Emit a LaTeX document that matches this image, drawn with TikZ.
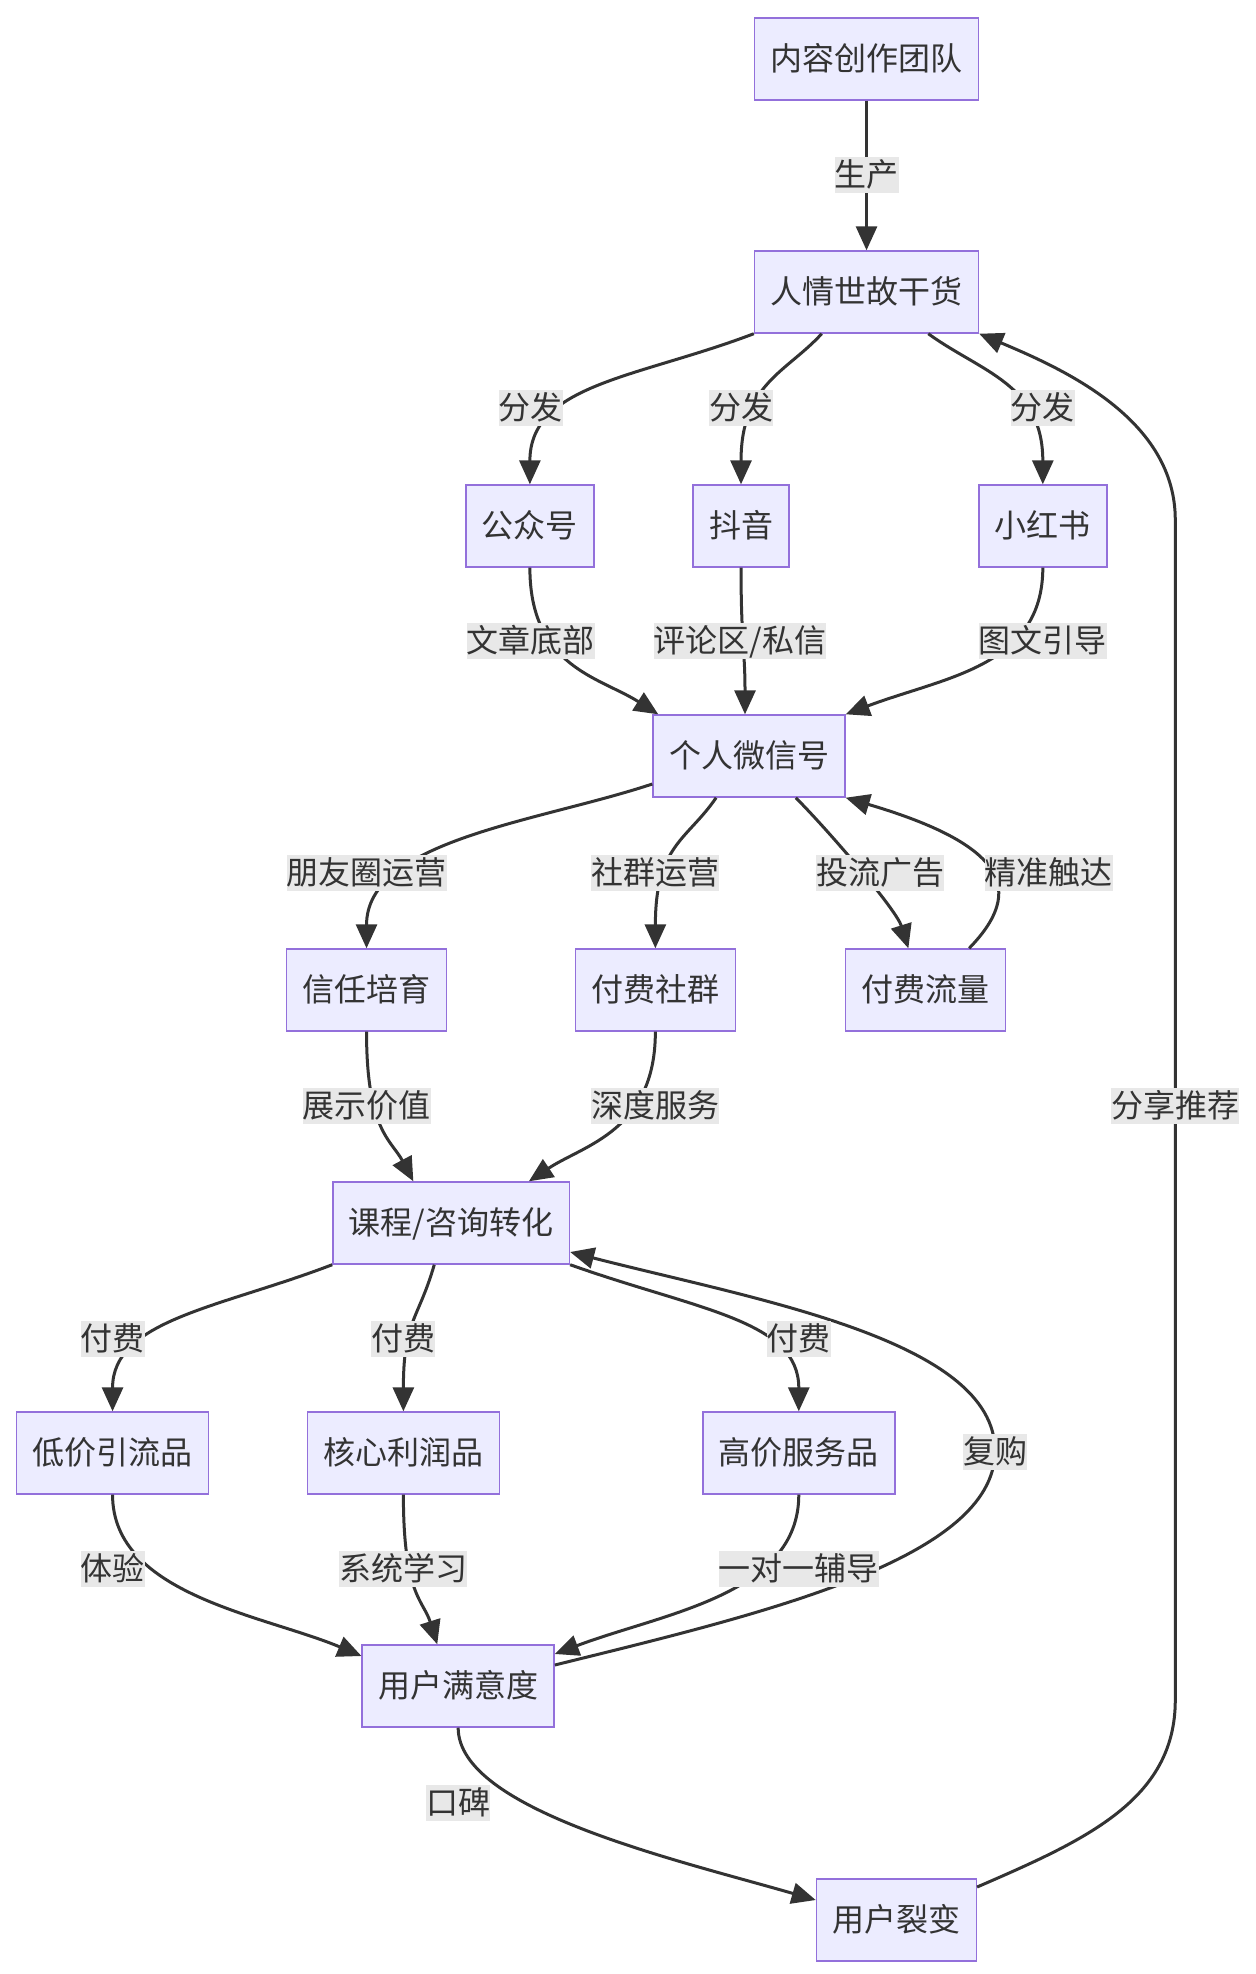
\documentclass[tikz,border=0pt]{standalone}
\usepackage{fontspec}
\setmainfont{Noto Sans CJK SC}
\usetikzlibrary{arrows.meta,calc}
\definecolor{nodefill}{HTML}{ECECFF}
\definecolor{nodeborder}{HTML}{9370DB}
\definecolor{edgecol}{HTML}{333333}
\definecolor{lblbg}{HTML}{E8E8E8}
\definecolor{txtcol}{HTML}{333333}
\begin{document}
\begin{tikzpicture}[x=0.996pt,y=1pt,
  box/.style={draw=nodeborder, fill=nodefill, line width=1.4pt, minimum height=82pt,
    inner xsep=16pt, inner ysep=0pt, text height=27pt, text depth=5pt,
    font=\fontsize{32}{38}\selectfont, text=txtcol},
  lbl/.style={fill=lblbg, inner sep=0pt, minimum height=36pt, text height=27pt,
    text depth=5pt, font=\fontsize{32}{38}\selectfont, text=txtcol},
  edge/.style={draw=edgecol, line width=3pt, -{Triangle[length=24pt,width=21pt]}},
]
\fill[white] (0,0) rectangle (1261,-1974);
\useasboundingbox (0,0) rectangle (1261,-1974);

% nodes
\node[box] (A)  at (870,-59)   {内容创作团队};
\node[box] (B)  at (870,-292)  {人情世故干货};
\node[box] (C1) at (532,-526)  {公众号};
\node[box] (C2) at (744,-526)  {抖音};
\node[box] (C3) at (1047,-526) {小红书};
\node[box] (D)  at (752,-756)  {个人微信号};
\node[box] (E1) at (368,-990)  {信任培育};
\node[box] (E2) at (658,-990)  {付费社群};
\node[box] (E3) at (929,-990)  {付费流量};
\node[box] (F)  at (453,-1223) {课程/咨询转化};
\node[box] (G1) at (113,-1453) {低价引流品};
\node[box] (G2) at (405,-1453) {核心利润品};
\node[box] (G3) at (802,-1453) {高价服务品};
\node[box] (H)  at (460,-1686) {用户满意度};
\node[box] (I)  at (900,-1920) {用户裂变};

% edges
\draw[edge] (A) -- (B);
\draw[edge] (B.south west) .. controls (640,-378) and (532,-384) .. (C1.north);
\draw[edge] ($(B.south)+(-45,0)$) .. controls (790,-372) and (744,-384) .. (C2.north);
\draw[edge] ($(B.south)+(62,0)$) .. controls (985,-372) and (1047,-384) .. (C3.north);
\draw[edge] (C1.south) .. controls (532,-667) and (602,-677) .. ($(D.north west)+(6,0)$);
\draw[edge] (C2.south) .. controls (744,-640) and (748,-650) .. ($(D.north)+(-4,0)$);
\draw[edge] (C3.south) .. controls (1047,-667) and (948,-677) .. (D.north east);
\draw[edge] ($(D.west)+(0,-28)$) .. controls (540,-822) and (368,-840) .. (E1.north);
\draw[edge] ($(D.south)+(-33,0)$) .. controls (690,-840) and (658,-845) .. (E2.north);
\draw[edge] ($(D.south)+(47,0)$) .. controls (835,-834) and (900,-910) .. ($(E3.north)+(-17,0)$);
\draw[edge] ($(E3.north)+(44,0)$) .. controls (1030,-890) and (1010,-845) .. (D.south east);
\draw[edge] (E1.south) .. controls (368,-1131) and (393,-1140) .. ($(F.north)+(-38,0)$);
\draw[edge] (E2.south) .. controls (658,-1131) and (586,-1145) .. ($(F.north)+(78,0)$);
\draw[edge] (F.south west) .. controls (220,-1308) and (113,-1320) .. (G1.north);
\draw[edge] ($(F.south)+(-17,0)$) .. controls (420,-1320) and (405,-1320) .. (G2.north);
\draw[edge] (F.south east) .. controls (700,-1310) and (802,-1320) .. (G3.north);
\coordinate (rb) at (999,-1451);
\draw[edge] ($(H.east)+(0,21)$) .. controls (760,-1615) and (999,-1560) .. (rb)
  .. controls (999,-1340) and (760,-1300) .. ($(F.east)+(0,-29)$);
\draw[edge] (G1.south) .. controls (113,-1595) and (265,-1615) .. ($(H.west)+(0,30)$);
\draw[edge] (G2.south) .. controls (405,-1595) and (425,-1600) .. ($(H.north)+(-21,0)$);
\draw[edge] (G3.south) .. controls (802,-1595) and (666,-1613) .. ($(H.east)+(0,32)$);
\draw[edge] (H.south) .. controls (460,-1810) and (680,-1860) .. ($(I.west)+(0,20)$);
\coordinate (sr1) at (1180,-1700);
\coordinate (sr2) at (1180,-520);
\draw[edge] ($(I.east)+(0,33)$) .. controls (1090,-1840) and (1180,-1800) .. (sr1)
  -- (sr2) .. controls (1180,-420) and (1070,-370) .. (B.south east);

% labels
\node[lbl] (l1)  at (870,-175)  {生产};
\node[lbl] (l2)  at (533,-408)  {分发};
\node[lbl] (l3)  at (744,-408)  {分发};
\node[lbl] (l4)  at (1047,-408) {分发};
\node[lbl] (l5)  at (533,-641)  {文章底部};
\node[lbl] (l6)  at (743,-641)  {评论区/私信};
\node[lbl] (l7)  at (1047,-641) {图文引导};
\node[lbl] (l8)  at (368,-873)  {朋友圈运营};
\node[lbl] (l9)  at (658,-873)  {社群运营};
\node[lbl] (l10) at (884,-873)  {投流广告};
\node[lbl] (l11) at (1053,-873) {精准触达};
\node[lbl] (l12) at (368,-1106) {展示价值};
\node[lbl] (l13) at (658,-1106) {深度服务};
\node[lbl] (l14) at (1180,-1106) {分享推荐};
\node[lbl] (l15) at (113,-1339) {付费};
\node[lbl] (l16) at (405,-1339) {付费};
\node[lbl] (l17) at (802,-1339) {付费};
\node[lbl] (l18) at (999,-1452) {复购};
\node[lbl] (l19) at (113,-1569) {体验};
\node[lbl] (l20) at (405,-1569) {系统学习};
\node[lbl] (l21) at (802,-1569) {一对一辅导};
\node[lbl] (l22) at (460,-1803) {口碑};
\end{tikzpicture}
\end{document}
